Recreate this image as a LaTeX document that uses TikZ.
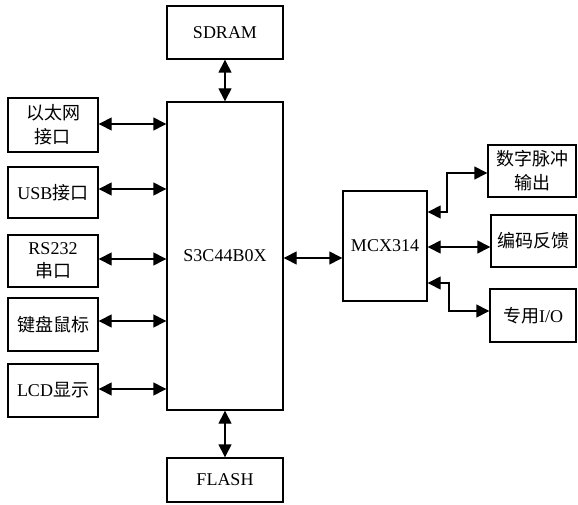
\documentclass[tikz,border=0pt]{standalone}
\usepackage{fontspec}
\setmainfont{Liberation Serif}
\newfontfamily\cjk{Noto Sans CJK SC}
\usetikzlibrary{arrows.meta,calc}
\begin{document}
\begin{tikzpicture}[x=1pt,y=-1pt,
  box/.style={draw,line width=1.4pt,inner sep=0pt,align=center,font=\fontsize{18}{21}\selectfont},
  link/.style={line width=1.4pt,{Triangle[length=13pt,width=13pt]}-{Triangle[length=13pt,width=13pt]}}]
\useasboundingbox (0,0) rectangle (578,505);
\node[box,minimum width=116pt,minimum height=53pt] (sdram) at (225,32.5) {SDRAM};
\node[box,minimum width=116pt,minimum height=308pt] (main) at (225,256) {S3C44B0X};
\node[box,minimum width=116pt,minimum height=44pt] (flash) at (225,480) {FLASH};
\node[box,minimum width=90pt,minimum height=54pt] (b1) at (53,125) {{\cjk 以太网}\\[3pt]{\cjk 接口}};
\node[box,minimum width=90pt,minimum height=51pt] (b2) at (53,192.5) {USB{\cjk 接口}};
\node[box,minimum width=90pt,minimum height=52pt] (b3) at (53,261) {RS232\\[2pt]{\cjk 串口}};
\node[box,minimum width=90pt,minimum height=53pt] (b4) at (53,324.5) {{\cjk 键盘鼠标}};
\node[box,minimum width=90pt,minimum height=53pt] (b5) at (53,390.5) {LCD{\cjk 显示}};
\node[box,minimum width=84pt,minimum height=110pt] (mcx) at (385,246) {MCX314};
\node[box,minimum width=88pt,minimum height=52pt] (r1) at (532,171) {{\cjk 数字脉冲}\\[3pt]{\cjk 输出}};
\node[box,minimum width=85pt,minimum height=52pt] (r2) at (533.5,241) {{\cjk 编码反馈}};
\node[box,minimum width=86pt,minimum height=53pt] (r3) at (533,315.5) {{\cjk 专用}I/O};
\draw[link] (sdram.south) -- (main.north);
\draw[link] (main.south) -- (flash.north);
\foreach \b/\y in {b1/124,b2/189,b3/259,b4/321,b5/389}
  \draw[link] (\b.east |- {0,\y}) -- (main.west |- {0,\y});
\draw[link] (main.east |- {0,258}) -- (mcx.west |- {0,258});
\coordinate (t1) at (447,212);
\coordinate (t2) at (449,283);
\draw[link] (mcx.east |- t1) -- (t1) -- (447,173) -- (r1.west |- {0,173});
\draw[link] (mcx.east |- {0,247}) -- (r2.west |- {0,247});
\draw[link] (mcx.east |- t2) -- (t2) -- (449,311) -- (r3.west |- {0,311});
\end{tikzpicture}
\end{document}
